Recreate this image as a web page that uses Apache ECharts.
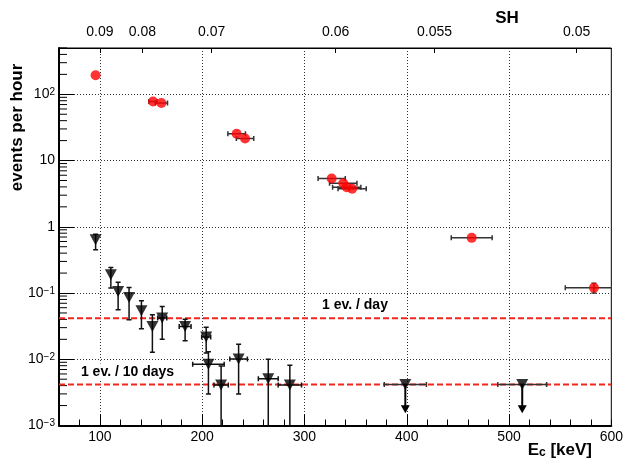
<!DOCTYPE html>
<html>
<head>
<meta charset="utf-8">
<script src="https://cdn.jsdelivr.net/npm/echarts@6/dist/echarts.min.js"></script>
<style>
html,body{margin:0;padding:0;background:#fff}
#main{width:626px;height:472px}
</style>
</head>
<body>
<div id="main"></div>
<script>
// red points: energy [keV], rate [1/h], half width in energy, error on rate
var sigE     = [95.8, 151.9, 160.1, 233.7, 241.9, 326.6, 337.9, 341.3, 346.6, 463.5, 583];
var sigRate  = [194, 78, 74, 25.3, 21.5, 5.35, 4.54, 3.95, 3.74, 0.68, 0.12];
var sigErrE  = [0, 4, 6, 8.6, 8.5, 13.3, 13.4, 13.8, 13.8, 20, 28];
var sigErrR  = [0, 0, 0, 0, 0, 0, 0, 0, 0, 0, 0.02];

// black triangles
var bkgE     = [95.8, 110.7, 117.8, 128.5, 140.6, 151.3, 160.9, 183.3, 203.9, 206.1, 218.5, 235.6, 264.6, 285.7];
var bkgRate  = [0.636, 0.188, 0.105, 0.0855, 0.0538, 0.0312, 0.0418, 0.0312, 0.0216, 0.00843, 0.0041, 0.0101, 0.00506, 0.0041];
var bkgUp    = [0.77, 0.243, 0.146, 0.121, 0.0762, 0.0469, 0.0625, 0.0403, 0.0305, 0.013, 0.0079, 0.0169, 0.0100, 0.0081];
var bkgLow   = [0.45, 0.119, 0.056, 0.0395, 0.0288, 0.0128, 0.0201, 0.019, 0.0124, 0.0030, 0.0005, 0.0030, 0.0005, 0.0005];
var bkgErrE  = [0, 0, 0, 0, 0, 0, 4.4, 5.8, 4.4, 15.4, 7, 8.6, 9.7, 11.4];

// upper limits
var ulE      = [398.6, 512.9];
var ulRate   = [0.00417, 0.00417];
var ulErrE   = [20.6, 23.9];
var ulArrow  = [0.00153, 0.00153];

// reference lines: 1 event per day / per 10 days, in events per hour
var refRates = [1 / 24, 1 / 240];

// top axis (SH)
var shLabels = ['0.09', '0.08', '0.07', '0.06', '0.055', '0.05'];
var shE      = [100, 141.6, 209.3, 330.5, 427.2, 566.1];

var xMajor = [100, 200, 300, 400, 500];
var xLabels = [100, 200, 300, 400, 500, 600];

var FONT = '"Liberation Sans", Arial, Helvetica, sans-serif';

// minor ticks for log axis
var yMinor = [];
for (var d = -3; d <= 2; d++) {
	for (var m = 2; m <= 9; m++) {
		var v = m * Math.pow(10, d);
		if (v <= 500) yMinor.push([60, v]);
	}
}

function seg(x1, y1, x2, y2, st) {
	return {type: 'line', shape: {x1: x1, y1: y1, x2: x2, y2: y2}, style: st};
}

function errRender(color) {
	return function (params, api) {
		var x = api.value(0), y = api.value(1), dx = api.value(2);
		var lo = api.value(3), hi = api.value(4);
		var st = {stroke: color, lineWidth: 1.5};
		var kids = [];
		var cap = 2.5;
		if (dx > 0) {
			var a = api.coord([x - dx, y]), b = api.coord([x + dx, y]);
			kids.push(seg(a[0], a[1], b[0], b[1], st));
			kids.push(seg(a[0], a[1] - cap, a[0], a[1] + cap, st));
			kids.push(seg(b[0], b[1] - cap, b[0], b[1] + cap, st));
		}
		if (hi > lo) {
			var c = api.coord([x, hi]), e = api.coord([x, lo]);
			kids.push(seg(c[0], c[1], e[0], e[1], st));
			kids.push(seg(c[0] - cap, c[1], c[0] + cap, c[1], st));
			kids.push(seg(e[0] - cap, e[1], e[0] + cap, e[1], st));
		}
		return {type: 'group', children: kids};
	};
}

var sigErrData = sigE.map(function (x, i) {
	return [x, sigRate[i], sigErrE[i], sigRate[i] - sigErrR[i], sigRate[i] + sigErrR[i]];
});
var bkgErrData = bkgE.map(function (x, i) {
	return [x, bkgRate[i], bkgErrE[i], bkgLow[i], bkgUp[i]];
});
var ulErrData = ulE.map(function (x, i) {
	return [x, ulRate[i], ulErrE[i], ulRate[i], ulRate[i]];
});

var refSeries = refRates.map(function (r) {
	return {
		type: 'line', silent: true, z: 4, symbol: 'none',
		data: [[60, r], [600, r]],
		lineStyle: {color: '#f2261c', width: 2, type: [6, 3]}
	};
});

var myChart = echarts.init(document.getElementById('main'));
var option = {
	backgroundColor: '#fff',
	animation: false,
	textStyle: {fontFamily: FONT},
	grid: {left: 59, top: 48, width: 554, height: 377.5, show: true, borderColor: '#000', borderWidth: 1},
	xAxis: [
		{
			type: 'value', position: 'bottom', min: 60, max: 600,
			axisLine: {lineStyle: {color: '#000', width: 2}},
			axisTick: {inside: true, length: 11, customValues: xMajor, lineStyle: {color: '#000', width: 1}},
			axisLabel: {customValues: xLabels, color: '#000', fontSize: 14, margin: 5, fontFamily: FONT},
			splitLine: {show: true, lineStyle: {color: '#333', width: 1, type: [1, 2]}}
		},
		{
			type: 'value', position: 'bottom', min: 60, max: 600, interval: 20,
			axisLine: {show: false},
			axisTick: {inside: true, length: 6, lineStyle: {color: '#000', width: 1}},
			axisLabel: {show: false},
			splitLine: {show: false}
		},
		{
			type: 'value', position: 'top', min: 60, max: 600,
			axisLine: {lineStyle: {color: '#000', width: 1}},
			axisTick: {inside: true, length: 5, customValues: shE, lineStyle: {color: '#000', width: 1}},
			axisLabel: {
				customValues: shE, color: '#000', fontSize: 14, margin: 9, fontFamily: FONT,
				formatter: function (v) {
					for (var i = 0; i < shE.length; i++) {
						if (Math.abs(shE[i] - v) < 0.01) return shLabels[i];
					}
					return '';
				}
			},
			splitLine: {show: false}
		}
	],
	yAxis: {
		type: 'log', logBase: 10, min: 0.001, max: 500,
		axisLine: {lineStyle: {color: '#000', width: 2}},
		axisTick: {inside: true, length: 15, lineStyle: {color: '#000', width: 1}},
		axisLabel: {
			color: '#000', fontSize: 14, margin: 4, fontFamily: FONT,
			formatter: function (v) {
				var e = Math.round(Math.log(v) / Math.LN10);
				var p = Math.pow(10, e);
				if (Math.abs(v - p) > 1e-6 * p) return '';
				if (e === 0) return '1';
				if (e === 1) return '10';
				return '10{s|' + (e < 0 ? '\u2212' + (-e) : e) + '}';
			},
			rich: {s: {fontSize: 10, verticalAlign: 'top', fontFamily: FONT, color: '#000'}}
		},
		splitLine: {show: true, lineStyle: {color: '#333', width: 1, type: [1, 2]}}
	},
	graphic: [
		{
			type: 'text', x: 17.5, y: 127.5, rotation: Math.PI / 2,
			style: {text: 'events per hour', font: 'bold 17px ' + FONT, align: 'center', verticalAlign: 'middle', fill: '#000'}
		},
		{
			type: 'text', x: 592, y: 450,
			style: {
				text: '{e|E}{c|c}{e| [keV]}', align: 'right', verticalAlign: 'middle', fill: '#000',
				rich: {
					e: {fontSize: 17, fontWeight: 'bold', fontFamily: FONT},
					c: {fontSize: 12, fontWeight: 'bold', fontFamily: FONT, verticalAlign: 'bottom'}
				}
			}
		},
		{
			type: 'text', x: 507, y: 18,
			style: {text: 'SH', font: 'bold 17px ' + FONT, align: 'center', verticalAlign: 'middle', fill: '#000'}
		},
		{
			type: 'text', x: 355, y: 305, z: 100,
			style: {
				text: '1 ev. / day', font: 'bold 14px ' + FONT, align: 'center', verticalAlign: 'middle',
				fill: '#000', backgroundColor: '#fff', padding: [6, 14, 2, 14]
			}
		},
		{
			type: 'text', x: 127.5, y: 372, z: 100,
			style: {
				text: '1 ev. / 10 days', font: 'bold 14px ' + FONT, align: 'center', verticalAlign: 'middle',
				fill: '#000', backgroundColor: '#fff', padding: [2, 3, 1, 3]
			}
		}
	],
	series: [
		{
			// minor ticks of the log axis
			type: 'custom', silent: true, data: yMinor, z: 3,
			renderItem: function (params, api) {
				var c = api.coord([api.value(0), api.value(1)]);
				return seg(c[0], c[1], c[0] + 8, c[1], {stroke: '#000', lineWidth: 1});
			}
		},
		refSeries[0],
		refSeries[1],
		{
			type: 'custom', clip: true, z: 5, silent: true,
			data: sigErrData, renderItem: errRender('#333')
		},
		{
			type: 'custom', clip: true, z: 5, silent: true,
			data: bkgErrData, renderItem: errRender('#111')
		},
		{
			type: 'custom', clip: true, z: 5, silent: true,
			data: ulErrData, renderItem: errRender('#333')
		},
		{
			// downward arrows of the upper limits
			type: 'custom', clip: true, z: 6, silent: true,
			data: ulE.map(function (x, i) { return [x, ulRate[i], ulArrow[i]]; }),
			renderItem: function (params, api) {
				var a = api.coord([api.value(0), api.value(1)]);
				var b = api.coord([api.value(0), api.value(2)]);
				return {type: 'group', children: [
					seg(a[0], a[1], b[0], b[1] - 6, {stroke: '#000', lineWidth: 2}),
					{type: 'polygon', shape: {points: [[b[0] - 4.5, b[1] - 8], [b[0] + 4.5, b[1] - 8], [b[0], b[1]]]}, style: {fill: '#000'}}
				]};
			}
		},
		{
			type: 'scatter', z: 10, silent: true,
			data: sigE.map(function (x, i) { return [x, sigRate[i]]; }),
			symbol: 'circle', symbolSize: 10,
			itemStyle: {color: '#ff0000'}
		},
		{
			type: 'scatter', z: 10, silent: true,
			data: bkgE.map(function (x, i) { return [x, bkgRate[i]]; }),
			symbol: 'triangle', symbolRotate: 180, symbolSize: [12, 11],
			itemStyle: {color: '#000'}
		},
		{
			type: 'scatter', z: 10, silent: true,
			data: ulE.map(function (x, i) { return [x, ulRate[i]]; }),
			symbol: 'triangle', symbolRotate: 180, symbolSize: [12, 11],
			itemStyle: {color: '#000'}
		}
	]
};
myChart.setOption(option);
</script>
</body>
</html>
